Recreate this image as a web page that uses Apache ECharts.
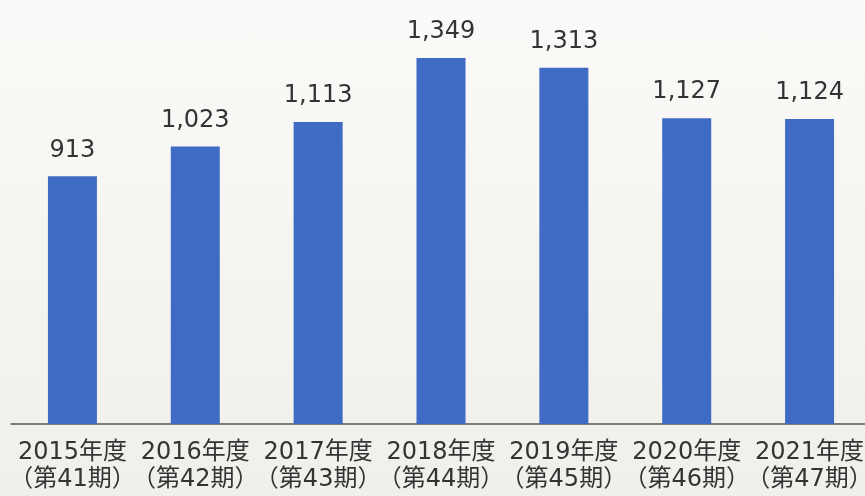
<!DOCTYPE html>
<html><head><meta charset="utf-8">
<script src="https://cdn.jsdelivr.net/npm/echarts@6/dist/echarts.min.js"></script>
<style>html,body{margin:0;padding:0;}#c{width:865px;height:496px;background:linear-gradient(#fbfaf8,#f1efeb);}</style>
</head><body><div id="c"></div>
<script>
var years = ['2015年度','2016年度','2017年度','2018年度','2019年度','2020年度','2021年度'];
var periods = ['（第41期）','（第42期）','（第43期）','（第44期）','（第45期）','（第46期）','（第47期）'];
var values = [913, 1023, 1113, 1349, 1313, 1127, 1124];
var categories = years.map(function(y,i){return y+'\n'+periods[i];});
var chart = echarts.init(document.getElementById('c'));
chart.setOption({
  backgroundColor: 'transparent',
  grid: {left: 11, width: 860, top: 17, bottom: 72, outerBoundsMode: 'none', containLabel: false},
  xAxis: {
    type: 'category', data: categories,
    axisLine: {show: true, lineStyle: {color: '#555', width: 1.5}},
    axisTick: {show: false},
    axisLabel: {interval: 0, margin: 15, fontSize: 24, lineHeight: 27, color: '#333',
      fontFamily: '"DejaVu Sans", "Noto Sans CJK JP", sans-serif'}
  },
  yAxis: {type: 'value', min: 0, max: 1500, show: false, splitLine: {show: false}},
  series: [{
    type: 'bar', data: values, barWidth: 49,
    itemStyle: {color: '#3f6bc4'},
    label: {show: true, position: 'top', distance: 14, fontSize: 24, color: '#333',
      fontFamily: '"DejaVu Sans", sans-serif',
      formatter: function(p){return p.value.toLocaleString('en-US');}}
  }]
});
</script></body></html>
